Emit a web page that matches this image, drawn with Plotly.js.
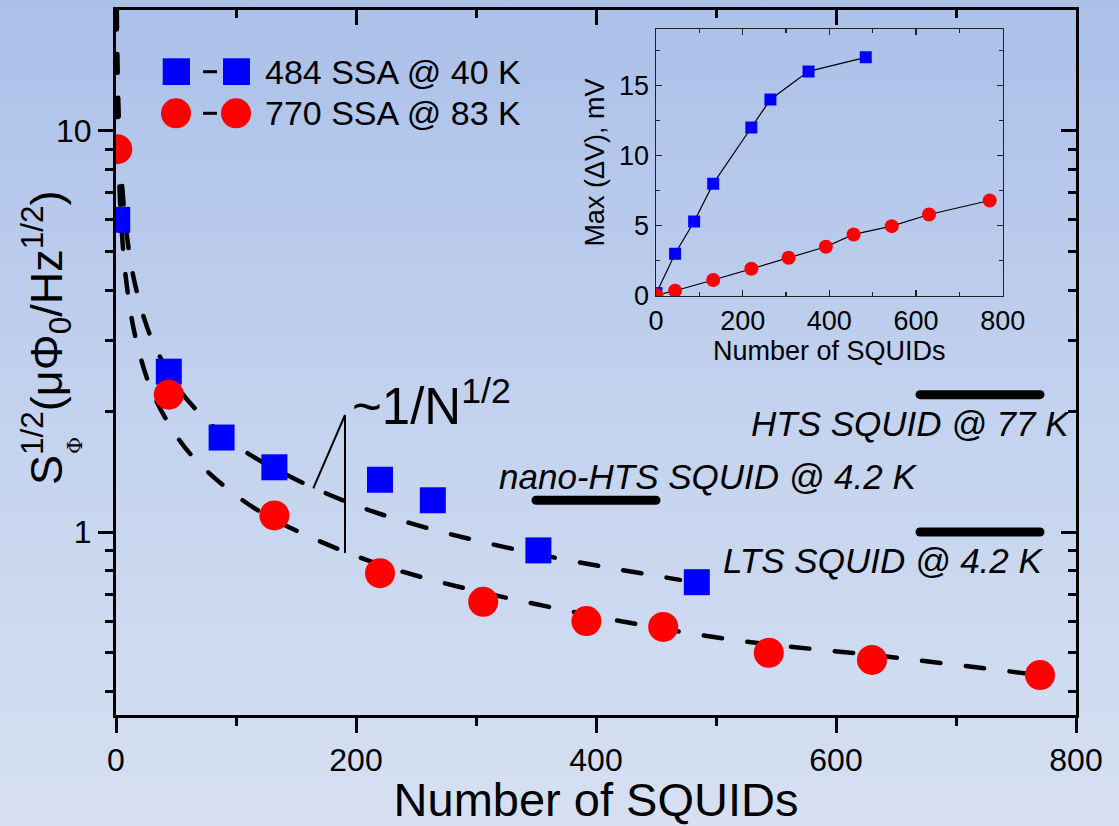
<!DOCTYPE html>
<html>
<head>
<meta charset="utf-8">
<script src="https://cdn.plot.ly/plotly-3.0.1.min.js"></script>
<style>
  html, body { margin: 0; padding: 0; }
  body { width: 1119px; height: 826px; overflow: hidden;
         background: linear-gradient(to bottom, #abc0e9 0%, #c3d2ee 50%, #d6e0f1 100%); }
  #chart { width: 1119px; height: 826px; }
  /* rounded ends for curve dashes and the level bars */
  #chart .scatterlayer .js-line { stroke-linecap: round; }
</style>
</head>
<body>
<div id="chart"></div>
<script>
// ---- Flux noise vs. number of SQUIDs in the array ----
const blueN     = [1, 44, 88, 132, 220, 264, 352, 484];
const blueNoise = [6.0, 2.51, 1.72, 1.45, 1.35, 1.20, 0.90, 0.75];
const redN      = [1, 44, 132, 220, 306, 392, 456, 544, 630, 770];
const redNoise  = [9.0, 2.20, 1.10, 0.79, 0.67, 0.60, 0.58, 0.50, 0.48, 0.44];

// ~1/sqrt(N) guide curves (dashed)
const fitBlueN = [0.68, 0.8, 1, 1.5, 2, 3, 4, 6, 8, 12, 16, 24, 32, 48, 64, 96, 128, 192, 256, 352, 470];
const fitBlueV = [20.0, 18.45, 16.5, 13.47, 11.67, 9.53, 8.25, 6.74, 5.83, 4.76, 4.13, 3.37, 2.92, 2.38, 2.06, 1.68, 1.46, 1.19, 1.03, 0.88, 0.76];
const fitRedN  = [0.38, 0.5, 0.7, 1, 1.5, 2, 3, 4, 6, 8, 12, 16, 24, 32, 48, 64, 96, 128, 192, 256, 384, 512, 640, 770];
const fitRedV  = [19.95, 17.4, 14.7, 12.3, 10.04, 8.70, 7.10, 6.15, 5.02, 4.35, 3.55, 3.08, 2.51, 2.17, 1.78, 1.54, 1.26, 1.09, 0.89, 0.77, 0.63, 0.54, 0.49, 0.44];

// Reference noise levels of single SQUIDs
const refNames  = ['HTS SQUID @ 77 K', 'nano-HTS SQUID @ 4.2 K', 'LTS SQUID @ 4.2 K'];
const refLevels = [2.2, 1.2, 1.0];
const refFrom   = [670, 350, 670];
const refTo     = [770, 450, 770];

// Inset: maximum voltage swing
const blueSwing = [0.2, 3.0, 5.3, 8.0, 12.0, 14.0, 16.0, 17.0];
const redSwing  = [0.05, 0.37, 1.13, 1.94, 2.72, 3.5, 4.38, 4.97, 5.8, 6.8];

const legendNames = ['484 SSA @ 40 K', '770 SSA @ 83 K'];

const xTicks = [0, 200, 400, 600, 800];
const xMinor = [100, 300, 500, 700];
const yTicks = [1, 10];
const yMinor = [0.4, 0.5, 0.6, 0.7, 0.8, 0.9, 2, 3, 4, 5, 6, 7, 8, 9];

// ---- page geometry ----
const W = 1119, H = 826;
const M = {l: 116, r: 43, t: 10, b: 111};
const PW = W - M.l - M.r, PH = H - M.t - M.b;
const fx = p => (p - M.l) / PW;          // page pixel -> paper x
const fy = p => (H - M.b - p) / PH;      // page pixel -> paper y

const FONT = 'Liberation Sans, Arial, Helvetica, sans-serif';
const BLUE = '#0000ff', RED = '#ff0000';
const DASH = '18.5px,25.5px';

const traces = [];
traces.push({x: fitBlueN, y: fitBlueV, mode: 'lines', line: {color: '#000', width: 4.5, dash: DASH, shape: 'spline', smoothing: 1},
             hoverinfo: 'skip', showlegend: false});
traces.push({x: fitRedN, y: fitRedV, mode: 'lines', line: {color: '#000', width: 4.5, dash: DASH, shape: 'spline', smoothing: 1},
             hoverinfo: 'skip', showlegend: false});
refLevels.forEach((v, i) => {
  traces.push({x: [refFrom[i], refTo[i]], y: [v, v], mode: 'lines', name: refNames[i],
               line: {color: '#000', width: 9}, showlegend: false});
});
traces.push({x: blueN, y: blueNoise, mode: 'markers', name: legendNames[0],
             marker: {symbol: 'square', size: 26, color: BLUE}, showlegend: false});
traces.push({x: redN, y: redNoise, mode: 'markers', name: legendNames[1],
             marker: {symbol: 'circle', size: 30, color: RED}, showlegend: false});
// mirror axes (top / right) with inward ticks
traces.push({x: [], y: [], xaxis: 'x2', yaxis: 'y2', showlegend: false, hoverinfo: 'skip'});
// inset
traces.push({x: blueN, y: blueSwing, xaxis: 'x3', yaxis: 'y3', mode: 'lines+markers', name: legendNames[0],
             line: {color: '#000', width: 1.2}, marker: {symbol: 'square', size: 12, color: BLUE}, showlegend: false});
traces.push({x: redN, y: redSwing, xaxis: 'x3', yaxis: 'y3', mode: 'lines+markers', name: legendNames[1],
             line: {color: '#000', width: 1.2}, marker: {symbol: 'circle', size: 14, color: RED}, showlegend: false});

const yRange = [Math.log10(0.35), Math.log10(20)];

const mainX = {
  range: [0, 800], tickvals: xTicks, ticks: 'outside', ticklen: 15, tickwidth: 3, tickcolor: '#000',
  minor: {tickvals: xMinor, ticks: 'outside', ticklen: 8, tickwidth: 3, tickcolor: '#000', showgrid: false},
  showline: true, linewidth: 3, linecolor: '#000', showgrid: false, zeroline: false,
  tickfont: {family: FONT, size: 32, color: '#000'},
  title: {text: 'Number of SQUIDs', font: {family: FONT, size: 47, color: '#000'}, standoff: 12}
};
const mainY = {
  type: 'log', range: yRange, tickvals: yTicks, ticktext: ['1', '10'],
  ticks: 'outside', ticklen: 15, tickwidth: 3, tickcolor: '#000',
  minor: {tickvals: yMinor, ticks: 'outside', ticklen: 8, tickwidth: 3, tickcolor: '#000', showgrid: false},
  showline: true, linewidth: 3, linecolor: '#000', showgrid: false, zeroline: false,
  tickfont: {family: FONT, size: 32, color: '#000'}
};
const topX = {
  overlaying: 'x', side: 'top', anchor: 'y2', range: [0, 800], tickvals: xTicks, ticks: 'inside', ticklen: 15, tickwidth: 3,
  tickcolor: '#000', minor: {tickvals: xMinor, ticks: 'inside', ticklen: 8, tickwidth: 3, tickcolor: '#000', showgrid: false},
  showline: true, linewidth: 3, linecolor: '#000', showgrid: false, zeroline: false, showticklabels: false
};
const rightY = {
  overlaying: 'y', side: 'right', anchor: 'x2', type: 'log', range: yRange, tickvals: yTicks, ticks: 'inside', ticklen: 15,
  tickwidth: 3, tickcolor: '#000', minor: {tickvals: yMinor, ticks: 'inside', ticklen: 8, tickwidth: 3, tickcolor: '#000', showgrid: false},
  showline: true, linewidth: 3, linecolor: '#000', showgrid: false, zeroline: false, showticklabels: false
};
const insetX = {
  domain: [fx(656), fx(1002.7)], anchor: 'y3', range: [0, 800], tickvals: xTicks,
  ticks: 'inside', ticklen: 6, tickwidth: 1.3, tickcolor: '#222',
  minor: {tickvals: xMinor, ticks: 'inside', ticklen: 4, tickwidth: 1.3, tickcolor: '#222', showgrid: false},
  showline: true, mirror: 'ticks', linewidth: 1.5, linecolor: '#222', showgrid: false, zeroline: false,
  tickfont: {family: FONT, size: 27, color: '#000'},
  title: {text: 'Number of SQUIDs', font: {family: FONT, size: 27, color: '#000'}, standoff: 4}
};
const insetY = {
  domain: [fy(295.9), fy(29.3)], anchor: 'x3', range: [0, 19], tickvals: [0, 5, 10, 15],
  ticks: 'inside', ticklen: 6, tickwidth: 1.3, tickcolor: '#222',
  minor: {tickvals: [2.5, 7.5, 12.5, 17.5], ticks: 'inside', ticklen: 4, tickwidth: 1.3, tickcolor: '#222', showgrid: false},
  showline: true, mirror: 'ticks', linewidth: 1.5, linecolor: '#222', showgrid: false, zeroline: false,
  tickfont: {family: FONT, size: 27, color: '#000'},
  title: {text: 'Max (\u0394V), mV', font: {family: FONT, size: 27, color: '#000'}, standoff: 6}
};

const shapes = [
  // legend glyphs
  {type: 'rect', xref: 'paper', yref: 'paper', x0: fx(162.7), x1: fx(190), y0: fy(85), y1: fy(58.3), fillcolor: BLUE, line: {width: 0}},
  {type: 'line', xref: 'paper', yref: 'paper', x0: fx(203), x1: fx(217), y0: fy(71.7), y1: fy(71.7), line: {color: '#000', width: 3}},
  {type: 'rect', xref: 'paper', yref: 'paper', x0: fx(223), x1: fx(250), y0: fy(85), y1: fy(58.3), fillcolor: BLUE, line: {width: 0}},
  {type: 'circle', xref: 'paper', yref: 'paper', x0: fx(161), x1: fx(191), y0: fy(128.3), y1: fy(98.3), fillcolor: RED, line: {width: 0}},
  {type: 'line', xref: 'paper', yref: 'paper', x0: fx(203), x1: fx(217), y0: fy(113.3), y1: fy(113.3), line: {color: '#000', width: 3}},
  {type: 'circle', xref: 'paper', yref: 'paper', x0: fx(221), x1: fx(251), y0: fy(128.3), y1: fy(98.3), fillcolor: RED, line: {width: 0}},
  // slope triangle for ~1/N^1/2
  {type: 'line', xref: 'paper', yref: 'paper', x0: fx(313.3), y0: fy(488.3), x1: fx(345), y1: fy(415), line: {color: '#000', width: 2}},
  {type: 'line', xref: 'paper', yref: 'paper', x0: fx(345), y0: fy(415), x1: fx(345), y1: fy(553), line: {color: '#000', width: 2}}
];

const annotations = [
  {xref: 'paper', yref: 'paper', x: fx(46), y: fy(338), textangle: -90, showarrow: false,
   xanchor: 'center', yanchor: 'middle',
   text: 'S<sup>1/2</sup>(\u03bc\u03a6<sub>0</sub>/Hz<sup>1/2</sup>)', font: {family: FONT, size: 45, color: '#000'}},
  {xref: 'paper', yref: 'paper', x: fx(75), y: fy(446), textangle: -90, showarrow: false,
   xanchor: 'center', yanchor: 'middle', text: '\u03a6', font: {family: 'DejaVu Serif, serif', size: 21, color: '#000'}},
  {xref: 'paper', yref: 'paper', x: fx(263), y: fy(71.7), xanchor: 'left', yanchor: 'middle', showarrow: false,
   text: legendNames[0], font: {family: FONT, size: 34, color: '#000'}},
  {xref: 'paper', yref: 'paper', x: fx(263), y: fy(113.3), xanchor: 'left', yanchor: 'middle', showarrow: false,
   text: legendNames[1], font: {family: FONT, size: 34, color: '#000'}},
  {xref: 'paper', yref: 'paper', x: fx(350), y: fy(403), xanchor: 'left', yanchor: 'middle', showarrow: false,
   text: '~1/N<sup>1/2</sup>', font: {family: FONT, size: 51, color: '#000'}},
  {xref: 'paper', yref: 'paper', x: fx(1072), y: fy(424), xanchor: 'right', yanchor: 'middle', showarrow: false,
   text: refNames[0], font: {family: FONT, size: 35, color: '#000', style: 'italic'}},
  {xref: 'paper', yref: 'paper', x: fx(497), y: fy(476), xanchor: 'left', yanchor: 'middle', showarrow: false,
   text: refNames[1], font: {family: FONT, size: 35, color: '#000', style: 'italic'}},
  {xref: 'paper', yref: 'paper', x: fx(1046), y: fy(560), xanchor: 'right', yanchor: 'middle', showarrow: false,
   text: refNames[2], font: {family: FONT, size: 35, color: '#000', style: 'italic'}}
];

const layout = {
  width: W, height: H, margin: M,
  paper_bgcolor: 'rgba(0,0,0,0)', plot_bgcolor: 'rgba(0,0,0,0)',
  font: {family: FONT, color: '#000'},
  showlegend: false,
  xaxis: mainX, yaxis: mainY, xaxis2: topX, yaxis2: rightY, xaxis3: insetX, yaxis3: insetY,
  shapes: shapes, annotations: annotations
};

Plotly.newPlot('chart', traces, layout, {staticPlot: true, displayModeBar: false});
</script>
</body>
</html>
